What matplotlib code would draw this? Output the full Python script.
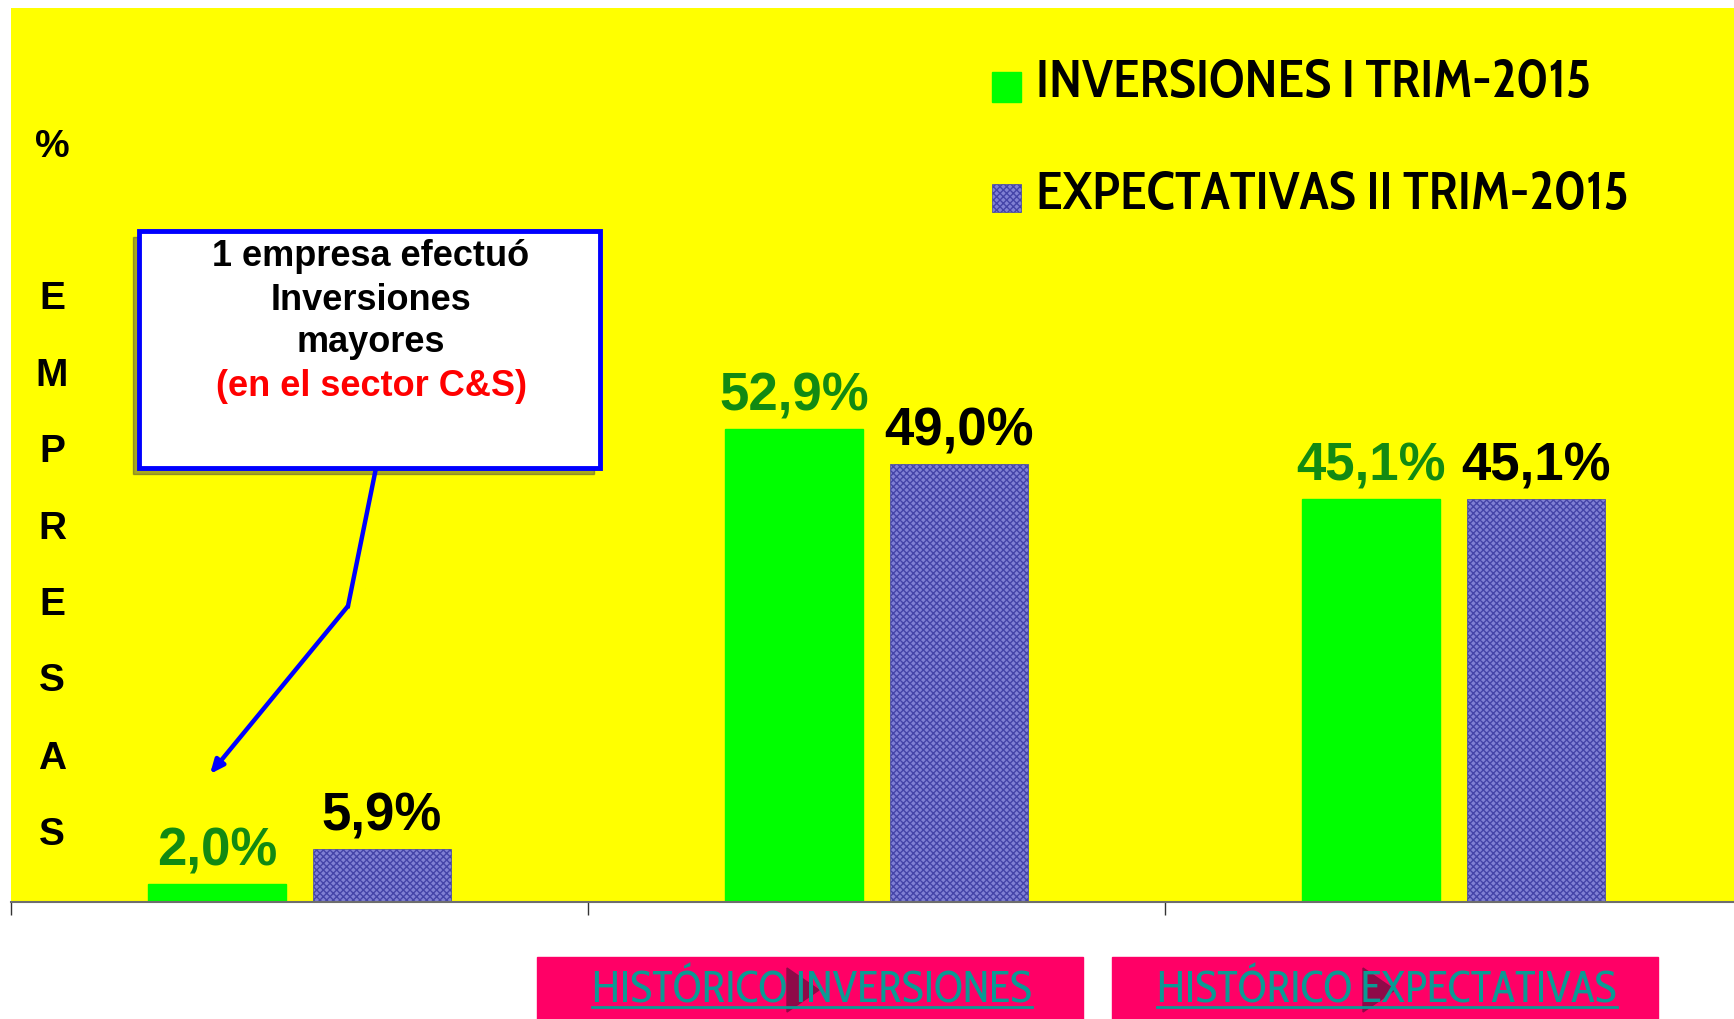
import matplotlib
matplotlib.use("Agg")
import matplotlib.pyplot as plt
import numpy as np
from matplotlib.patches import Rectangle, Polygon
from matplotlib.lines import Line2D

# datos
grupos = ["", "", ""]
inversiones = [2.0, 52.9, 45.1]
expectativas = [5.9, 49.0, 45.1]
etiquetas_inv = ["2,0%", "52,9%", "45,1%"]
etiquetas_exp = ["5,9%", "49,0%", "45,1%"]
serie_inv = "INVERSIONES I TRIM-2015"
serie_exp = "EXPECTATIVAS II TRIM-2015"
letras_eje = ["%", "E", "M", "P", "R", "E", "S", "A", "S"]
botones = ["HISTÓRICO INVERSIONES", "HISTÓRICO EXPECTATIVAS"]

W, H = 1734, 1020
fig = plt.figure(figsize=(W / 100, H / 100), dpi=100)
fig.patch.set_facecolor("white")


def fx(x):
    return x / W


def fy(y):
    return 1 - y / H


narrow = ["Cabin Condensed", "Liberation Sans", "DejaVu Sans"]
arial = ["Liberation Sans", "DejaVu Sans"]

plt.rcParams["hatch.linewidth"] = 1.0
plt.rcParams["hatch.color"] = "#1a1a9c"

# area del grafico
ax = fig.add_axes([fx(11), fy(903), 1 - fx(11), fy(9) - fy(903)])
ax.set_facecolor("#FFFF00")
x = np.arange(len(grupos))
ancho = 0.24
desp = 0.143

b1 = ax.bar(x - desp, inversiones, ancho, color="#00FF00", edgecolor="#00FF00", zorder=2)
b2 = ax.bar(x + desp, expectativas, ancho, facecolor="#8080d4", edgecolor="#4444a8",
            linewidth=0.5, hatch="xxxxx", zorder=2)

for xi, v, t in zip(x - desp, inversiones, etiquetas_inv):
    ax.annotate(t, (xi, v), xytext=(0, 14), textcoords="offset points", ha="center",
                va="baseline", fontsize=38, fontweight="bold", color="#128a12", family=arial)
for xi, v, t in zip(x + desp, expectativas, etiquetas_exp):
    ax.annotate(t, (xi, v), xytext=(0, 14), textcoords="offset points", ha="center",
                va="baseline", fontsize=38, fontweight="bold", color="black", family=arial)

ax.set_xlim(-0.5, 2.486)
ax.set_ylim(0, 100)
ax.set_yticks([])
ax.set_xticks([-0.5, 0.5, 1.5])
ax.set_xticklabels([])
ax.tick_params(axis="x", length=9, width=1, color="#333333", direction="out")
for s in ["top", "right", "left"]:
    ax.spines[s].set_visible(False)
ax.spines["bottom"].set_color("#6e6e6e")
ax.spines["bottom"].set_linewidth(1.5)

# leyenda manual
fig.patches.append(Rectangle((fx(992), fy(103)), fx(29), fy(73) - fy(103),
                             transform=fig.transFigure, color="#00FF00"))
fig.patches.append(Rectangle((fx(992), fy(213)), fx(29), fy(185) - fy(213),
                             transform=fig.transFigure, facecolor="#8080d4",
                             edgecolor="#4444a8", hatch="xxxxx", linewidth=0.5))
fig.text(fx(1036), fy(84), serie_inv, fontsize=39, fontweight=600, family=narrow,
         va="center", ha="left")
fig.text(fx(1036), fy(195), serie_exp, fontsize=39, fontweight=600, family=narrow,
         va="center", ha="left")

# titulo vertical del eje
ys = [147, 299, 376, 452, 529, 605, 681, 759, 835]
for letra, yy in zip(letras_eje, ys):
    fig.text(fx(52), fy(yy), letra, fontsize=28, fontweight="bold", family=arial,
             ha="center", va="center")

# recuadro de comentario
fig.patches.append(Rectangle((fx(133), fy(475)), fx(461), fy(232) - fy(469),
                             transform=fig.transFigure, color="#404040", alpha=0.45, zorder=3))
fig.patches.append(Rectangle((fx(139), fy(469)), fx(461), fy(232) - fy(469),
                             transform=fig.transFigure, facecolor="white",
                             edgecolor="#0000FF", linewidth=3.5, zorder=4))
lineas = ["1 empresa efectuó", "Inversiones", "mayores"]
for i, t in enumerate(lineas):
    fig.text(fx(371), fy(257 + 43 * i), t, fontsize=26, fontweight="bold", family=arial,
             ha="center", va="center", zorder=5)
fig.text(fx(371), fy(386), "(en el sector C&S)", fontsize=26, fontweight="bold",
         family=arial, color="#FF0000", ha="center", va="center", zorder=5)

fig.lines.append(Line2D([fx(376), fx(348)], [fy(469), fy(607)], transform=fig.transFigure,
                        color="#0000FF", linewidth=3.2, zorder=4))
ax.annotate("", xy=(fx(210), fy(775)), xycoords="figure fraction",
            xytext=(fx(348), fy(607)), textcoords="figure fraction",
            arrowprops=dict(arrowstyle="-|>,head_length=0.8,head_width=0.35",
                            color="#0000FF", lw=3.2, shrinkA=0, shrinkB=0))

# botones inferiores
cajas = [(537, 1083, 787), (1112, 1658, 1363)]
textos = []
for (x0, x1, tri), t in zip(cajas, botones):
    fig.patches.append(Rectangle((fx(x0), 0), fx(x1 - x0), fy(958),
                                 transform=fig.transFigure, color="#FF0066"))
    fig.patches.append(Polygon([(fx(tri), fy(969)), (fx(tri), fy(1013)), (fx(tri + 32), fy(991))],
                               closed=True, transform=fig.transFigure, color="#8e0a48"))
    txt = fig.text(fx((x0 + x1) / 2 + 2), fy(992), t, fontsize=31.5, family=narrow,
                   color="#0a9a94", ha="center", va="center")
    textos.append(txt)

fig.canvas.draw()
r = fig.canvas.get_renderer()
for txt in textos:
    bb = txt.get_window_extent(r)
    fig.lines.append(Line2D([bb.x0 / W, bb.x1 / W], [fy(1008), fy(1008)],
                            transform=fig.transFigure, color="#0a9a94", linewidth=2))

fig.savefig("out.png", dpi=100, facecolor="white")
